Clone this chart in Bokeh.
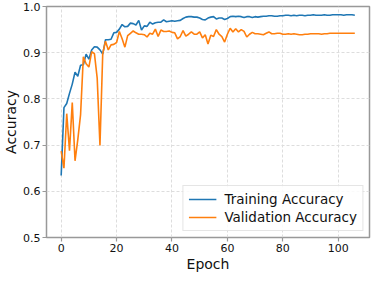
from bokeh.plotting import figure
from bokeh.models import Range1d, FixedTicker, Legend, LegendItem, NumeralTickFormatter
from bokeh.embed import file_html
from bokeh.resources import INLINE

train_acc = [
    0.634, 0.781, 0.790, 0.812, 0.832, 0.858, 0.849, 0.873, 0.874, 0.897,
    0.886, 0.906, 0.913, 0.912, 0.906, 0.897, 0.928, 0.928, 0.929, 0.943,
    0.944, 0.951, 0.961, 0.956, 0.957, 0.964, 0.963, 0.960, 0.970, 0.949,
    0.958, 0.957, 0.966, 0.962, 0.965, 0.966, 0.966, 0.971, 0.967, 0.968,
    0.969, 0.968, 0.969, 0.970, 0.974, 0.977, 0.978, 0.978, 0.977, 0.977,
    0.975, 0.972, 0.971, 0.975, 0.977, 0.978, 0.973, 0.975, 0.975, 0.972,
    0.974, 0.978, 0.979, 0.978, 0.979, 0.978, 0.976, 0.978, 0.978, 0.976,
    0.978, 0.977, 0.978, 0.979, 0.979, 0.980, 0.980, 0.979, 0.979, 0.980,
    0.980, 0.981, 0.981, 0.980, 0.981, 0.980, 0.981, 0.981, 0.980, 0.981,
    0.981, 0.982, 0.981, 0.981, 0.981, 0.982, 0.981, 0.981, 0.982, 0.982,
    0.982, 0.982, 0.981, 0.982, 0.982, 0.982, 0.981,
]

val_acc = [
    0.687, 0.650, 0.768, 0.688, 0.792, 0.666, 0.712, 0.766, 0.891, 0.876,
    0.869, 0.902, 0.898, 0.845, 0.699, 0.898, 0.925, 0.906, 0.917, 0.918,
    0.922, 0.946, 0.930, 0.912, 0.937, 0.942, 0.947, 0.943, 0.940, 0.940,
    0.939, 0.934, 0.942, 0.940, 0.951, 0.935, 0.949, 0.946, 0.946, 0.947,
    0.944, 0.943, 0.930, 0.935, 0.948, 0.936, 0.940, 0.945, 0.940, 0.940,
    0.945, 0.932, 0.939, 0.919, 0.938, 0.935, 0.950, 0.940, 0.935, 0.923,
    0.940, 0.953, 0.945, 0.952, 0.945, 0.950, 0.946, 0.934, 0.940, 0.944,
    0.941, 0.941, 0.940, 0.939, 0.942, 0.945, 0.941, 0.941, 0.942, 0.942,
    0.940, 0.940, 0.941, 0.940, 0.941, 0.940, 0.939, 0.939, 0.940, 0.940,
    0.941, 0.941, 0.941, 0.941, 0.940, 0.941, 0.941, 0.942, 0.942, 0.942,
    0.942, 0.942, 0.942, 0.942, 0.942, 0.942, 0.942,
]

epochs = list(range(len(train_acc)))
x_ticks = [0, 20, 40, 60, 80, 100]
y_ticks = [0.5, 0.6, 0.7, 0.8, 0.9, 1.0]

p = figure(width=371, height=274, output_backend="svg", toolbar_location=None,
           x_range=Range1d(-5.3, 111.3), y_range=Range1d(0.5, 1.0),
           min_border_left=2, min_border_right=2, min_border_top=6, min_border_bottom=0)

r1 = p.line(epochs, train_acc, line_color="#1f77b4", line_width=1.6)
r2 = p.line(epochs, val_acc, line_color="#ff7f0e", line_width=1.6)

p.xaxis.ticker = FixedTicker(ticks=x_ticks)
p.yaxis.ticker = FixedTicker(ticks=y_ticks)
p.yaxis.formatter = NumeralTickFormatter(format="0.0")
p.xaxis.axis_label = "Epoch"
p.yaxis.axis_label = "Accuracy"
for ax in (p.xaxis, p.yaxis):
    ax.axis_label_text_font = "DejaVu Sans"
    ax.axis_label_text_font_size = "14px"
    ax.axis_label_text_font_style = "normal"
    ax.axis_label_text_color = "#111111"
    ax.major_label_text_font = "DejaVu Sans"
    ax.major_label_text_font_size = "11px"
    ax.major_label_text_color = "#111111"
    ax.axis_line_color = None
    ax.major_tick_line_color = "#999999"
    ax.major_tick_line_width = 1.2
    ax.major_tick_out = 4
    ax.major_tick_in = 0
    ax.minor_tick_line_color = None
    ax.major_label_standoff = 2
    ax.axis_label_standoff = 1

p.xgrid.grid_line_color = "#dddddd"
p.ygrid.grid_line_color = "#dddddd"
p.xgrid.grid_line_dash = "3 2"
p.ygrid.grid_line_dash = "3 2"

p.outline_line_color = "#999999"
p.outline_line_width = 1.5
p.background_fill_color = "white"
p.border_fill_color = "white"

legend = Legend(items=[LegendItem(label="Training Accuracy", renderers=[r1]),
                       LegendItem(label="Validation Accuracy", renderers=[r2])],
                location="bottom_right")
legend.label_text_font = "DejaVu Sans"
legend.label_text_font_size = "13.5px"
legend.label_text_color = "#111111"
legend.label_height = 16
legend.glyph_height = 16
legend.glyph_width = 28
legend.label_standoff = 8
legend.spacing = 2
legend.padding = 5
legend.margin = 6
legend.border_line_color = "#cccccc"
legend.background_fill_alpha = 0.85
p.add_layout(legend)

open("out.html", "w").write(file_html(p, INLINE))
